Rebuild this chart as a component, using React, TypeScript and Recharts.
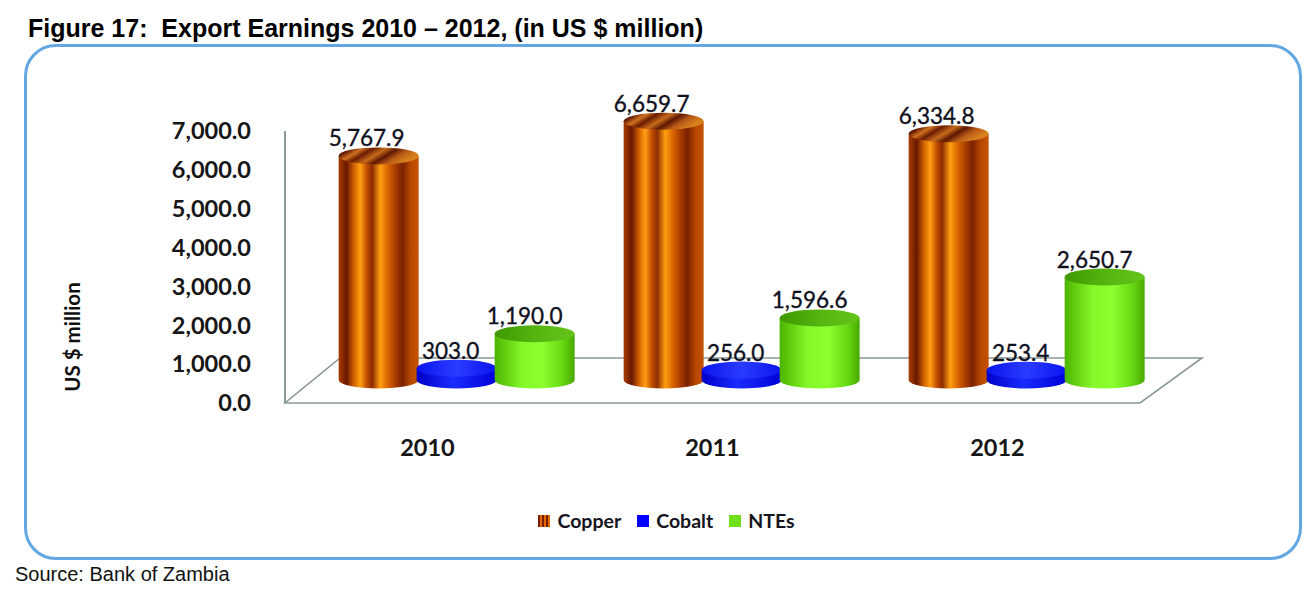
import React from 'react';
import * as RC from 'recharts';
import { BarChart, Bar, XAxis, YAxis, Legend, LabelList } from 'recharts';

const years = ['2010', '2011', '2012'];
const copper = [5767.9, 6659.7, 6334.8];
const cobalt = [303.0, 256.0, 253.4];
const ntes = [1190.0, 1596.6, 2650.7];
const yTicks = [0, 1000, 2000, 3000, 4000, 5000, 6000, 7000];
const seriesNames = ['Copper', 'Cobalt', 'NTEs'];

const data = years.map((year, i) => ({
  year,
  Copper: copper[i],
  Cobalt: cobalt[i],
  NTEs: ntes[i],
}));

const W = 1313;
const H = 589;
const DX = 29;
const DY = -23;
const RY = 8.5;
const FONT = 'Lato, "Open Sans", sans-serif';

const fmt1 = (v: number) =>
  Number(v).toLocaleString('en-US', { minimumFractionDigits: 1, maximumFractionDigits: 1 });

const makeCylinder = (bodyId: string, topId: string) => (props: any) => {
  const { x, y, width, height } = props;
  if (x == null || y == null) return <g />;
  const w = width + 2;
  const left = x - 1 + DX;
  const right = left + w;
  const rx = w / 2;
  const top = y + DY;
  const base = y + height + DY;
  const cx = left + rx;
  return (
    <g>
      <path
        d={`M${left},${top} L${left},${base} A${rx},${RY} 0 0 0 ${right},${base} L${right},${top} Z`}
        fill={`url(#${bodyId})`}
      />
      <ellipse cx={cx} cy={top} rx={rx} ry={RY} fill={`url(#${topId})`} />
    </g>
  );
};

const CopperShape = makeCylinder('cuBody', 'cuTop');
const CobaltShape = makeCylinder('coBody', 'coTop');
const NteShape = makeCylinder('ntBody', 'ntTop');

const makeLabel = (shift: number) => (props: any) => {
  const { x, y, width, value } = props;
  if (x == null) return null;
  return (
    <text
      x={x + width / 2 + DX + shift}
      y={y + DY - RY - 1}
      textAnchor="middle"
      fontFamily={FONT}
      fontSize={22.5}
      fill="#10101e"
      stroke="#10101e"
      strokeWidth={0.35}
    >
      {fmt1(value)}
    </text>
  );
};

const usePA: any = (RC as any).usePlotArea;

const FloorInner = ({ area }: { area: { x: number; y: number; width: number; height: number } }) => {
  const x0 = area.x;
  const x1 = area.x + area.width;
  const yb = area.y + area.height;
  const pts = `${x0},${yb} ${x1},${yb} ${x1 + 62},${yb - 45} ${x0 + 55},${yb - 45}`;
  return <polygon points={pts} fill="#ffffff" stroke="#8a9898" strokeWidth={1.6} />;
};

const FloorHook = () => {
  const a = usePA();
  if (!a) return null;
  return <FloorInner area={a} />;
};

const FloorStatic = () => <FloorInner area={{ x: 285, y: 131, width: 855, height: 272 }} />;

const Floor = usePA ? FloorHook : FloorStatic;

const YLabel = (props: any) => {
  const vb = props.viewBox || { x: 55, y: 131, width: 230, height: 272 };
  const x = vb.x + 17;
  const y = vb.y + vb.height / 2 + 70;
  return (
    <text
      x={x}
      y={y}
      transform={`rotate(-90 ${x} ${y})`}
      textAnchor="middle"
      dominantBaseline="central"
      fontFamily={FONT}
      fontWeight="bold"
      fontSize={20.5}
      fill="#111"
    >
      US $ million
    </text>
  );
};

const markerStyle: Record<string, React.CSSProperties> = {
  Copper: {
    background: 'repeating-linear-gradient(90deg, #7a1c00 0px, #7a1c00 2px, #e26a00 2px, #e26a00 4px)',
  },
  Cobalt: { background: '#0000ff' },
  NTEs: { background: '#6fe01a' },
};

const LegendContent = () => (
  <div
    style={{
      display: 'flex',
      justifyContent: 'center',
      alignItems: 'center',
      fontFamily: FONT,
      fontWeight: 'bold',
      fontSize: 19.5,
      color: '#151520',
      width: W,
      paddingLeft: 18,
    }}
  >
    {seriesNames.map((n) => (
      <div key={n} style={{ display: 'flex', alignItems: 'center', marginRight: 16 }}>
        <span style={{ display: 'inline-block', width: 12, height: 12, marginRight: 7, ...markerStyle[n] }} />
        <span>{n}</span>
      </div>
    ))}
  </div>
);

export default function App() {
  return (
    <div style={{ position: 'absolute', left: 0, top: 0, width: W, height: H, background: '#fff', overflow: 'hidden' }}>
      <div
        style={{
          position: 'absolute',
          left: 28,
          top: 14,
          fontFamily: '"Liberation Sans", Arial, sans-serif',
          fontWeight: 'bold',
          fontSize: 25,
          lineHeight: '29px',
          whiteSpace: 'pre',
          color: '#000',
        }}
      >
        {'Figure 17:  Export Earnings 2010 \u2013 2012, (in US $ million)'}
      </div>
      <div
        style={{
          position: 'absolute',
          left: 24,
          top: 44,
          width: 1272,
          height: 510,
          border: '3px solid #62a6e2',
          borderRadius: 32,
        }}
      />
      <div style={{ position: 'absolute', left: 0, top: 0 }}>
        <BarChart
          width={W}
          height={H}
          data={data}
          margin={{ top: 131, right: 173, bottom: 126, left: 55 }}
          barCategoryGap="9%"
          barGap={0}
        >
          <defs>
            <linearGradient id="cuBody" x1="0" y1="0" x2="1" y2="0">
              <stop offset="0%" stopColor="#a83c00" />
              <stop offset="10%" stopColor="#6a1800" />
              <stop offset="20%" stopColor="#d86800" />
              <stop offset="27%" stopColor="#ff9e12" />
              <stop offset="35%" stopColor="#c45000" />
              <stop offset="42%" stopColor="#8e2c00" />
              <stop offset="52%" stopColor="#ffa010" />
              <stop offset="62%" stopColor="#d86200" />
              <stop offset="72%" stopColor="#a23a00" />
              <stop offset="80%" stopColor="#7a2200" />
              <stop offset="90%" stopColor="#b84800" />
              <stop offset="100%" stopColor="#c45200" />
            </linearGradient>
            <linearGradient id="cuTop" x1="0" y1="0" x2="1" y2="0.35">
              <stop offset="0%" stopColor="#8a2c00" />
              <stop offset="15%" stopColor="#5a1400" />
              <stop offset="28%" stopColor="#d07020" />
              <stop offset="40%" stopColor="#6a1c00" />
              <stop offset="55%" stopColor="#c86a1c" />
              <stop offset="68%" stopColor="#5e1800" />
              <stop offset="82%" stopColor="#b85a18" />
              <stop offset="100%" stopColor="#d8801c" />
            </linearGradient>
            <linearGradient id="coBody" x1="0" y1="0" x2="1" y2="0">
              <stop offset="0%" stopColor="#0000c8" />
              <stop offset="45%" stopColor="#1a2cff" />
              <stop offset="100%" stopColor="#0000d8" />
            </linearGradient>
            <linearGradient id="coTop" x1="0" y1="0" x2="1" y2="0">
              <stop offset="0%" stopColor="#0a14ee" />
              <stop offset="50%" stopColor="#2a3cff" />
              <stop offset="100%" stopColor="#0a14f0" />
            </linearGradient>
            <linearGradient id="ntBody" x1="0" y1="0" x2="1" y2="0">
              <stop offset="0%" stopColor="#4cb400" />
              <stop offset="35%" stopColor="#86f82a" />
              <stop offset="60%" stopColor="#8cff30" />
              <stop offset="85%" stopColor="#66d812" />
              <stop offset="100%" stopColor="#48a800" />
            </linearGradient>
            <linearGradient id="ntTop" x1="0" y1="0" x2="1" y2="0">
              <stop offset="0%" stopColor="#3e9800" />
              <stop offset="50%" stopColor="#56b410" />
              <stop offset="100%" stopColor="#64c41a" />
            </linearGradient>
          </defs>
          <Floor />
          <XAxis
            dataKey="year"
            height={60}
            axisLine={false}
            tickLine={false}
            tickSize={0}
            tickMargin={36}
            tick={{ fontFamily: FONT, fontWeight: 'bold', fontSize: 23.5, fill: '#161616' }}
          />
          <YAxis
            width={230}
            domain={[0, 7000]}
            ticks={yTicks}
            interval={0}
            tickLine={false}
            tickSize={0}
            tickMargin={34}
            axisLine={{ stroke: '#8a9a9a', strokeWidth: 2 }}
            tickFormatter={fmt1}
            tick={{ fontFamily: FONT, fontWeight: 'bold', fontSize: 23.5, fill: '#161616' }}
            label={<YLabel />}
          />
          <Legend
            layout="horizontal"
            verticalAlign="middle"
            align="center"
            content={<LegendContent />}
            wrapperStyle={{ top: 509, left: 0, width: W }}
          />
          <Bar dataKey="Copper" fill="#c45200" shape={CopperShape} isAnimationActive={false}>
            <LabelList dataKey="Copper" content={makeLabel(-12)} />
          </Bar>
          <Bar dataKey="Cobalt" fill="#0000ff" shape={CobaltShape} isAnimationActive={false}>
            <LabelList dataKey="Cobalt" content={makeLabel(-6)} />
          </Bar>
          <Bar dataKey="NTEs" fill="#6fe01a" shape={NteShape} isAnimationActive={false}>
            <LabelList dataKey="NTEs" content={makeLabel(-10)} />
          </Bar>
        </BarChart>
      </div>
      <div
        style={{
          position: 'absolute',
          left: 15,
          top: 563,
          fontFamily: '"Liberation Sans", Arial, sans-serif',
          fontSize: 20,
          lineHeight: '23px',
          color: '#111',
        }}
      >
        Source: Bank of Zambia
      </div>
    </div>
  );
}
